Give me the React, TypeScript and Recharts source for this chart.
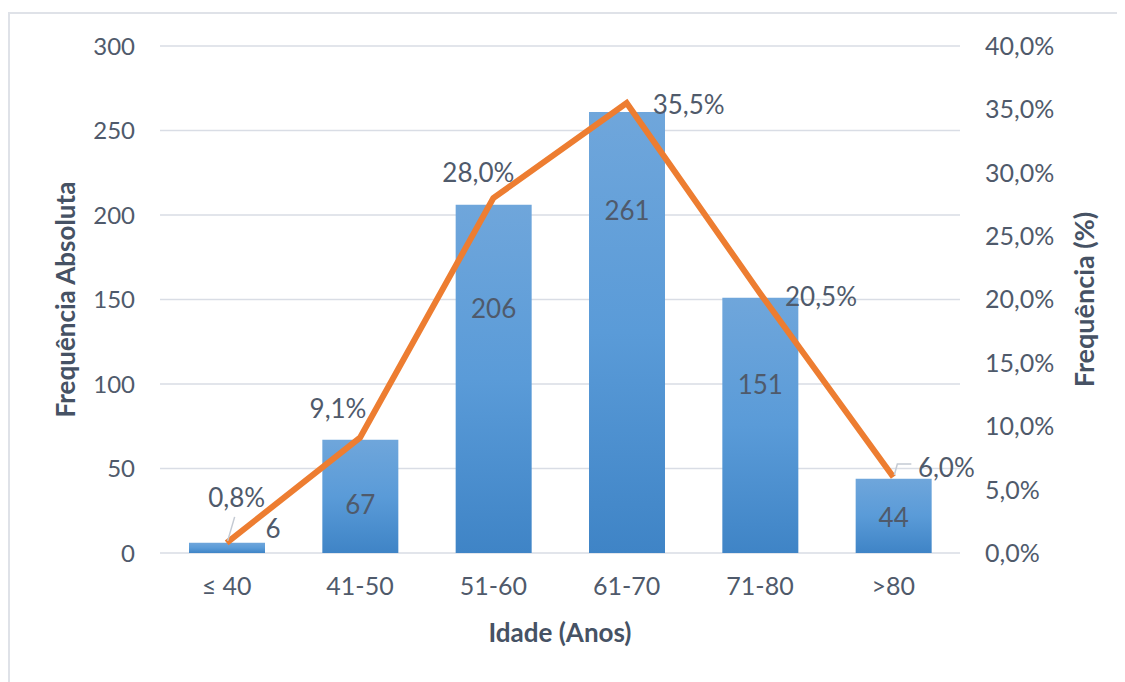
import React from "react";
import {
  ComposedChart,
  Bar,
  Line,
  XAxis,
  YAxis,
  CartesianGrid,
  LabelList,
} from "recharts";

// Age groups and their absolute / relative frequencies
const ageGroups = ["≤ 40", "41-50", "51-60", "61-70", "71-80", ">80"];
const counts = [6, 67, 206, 261, 151, 44];
const percents = [0.8, 9.1, 28.0, 35.5, 20.5, 6.0];

const countTicks = [0, 50, 100, 150, 200, 250, 300];
const percentTicks = [0, 5, 10, 15, 20, 25, 30, 35, 40];

// Hand-tuned placement of the data labels (pixels from the bar top / line point)
const countLabelShift = [
  { dx: 46, dy: -15 },
  { dx: 0, dy: 64 },
  { dx: 0, dy: 103 },
  { dx: 0, dy: 98 },
  { dx: 0, dy: 86 },
  { dx: 0, dy: 38 },
];
const percentLabelShift = [
  { dx: 10, dy: -46, leader: "up" },
  { dx: -22, dy: -30, leader: "" },
  { dx: -15, dy: -26, leader: "" },
  { dx: 62, dy: 1, leader: "" },
  { dx: 61, dy: 3, leader: "" },
  { dx: 53, dy: -10, leader: "elbow" },
];

const rows = ageGroups.map((g, i) => ({
  group: g,
  count: counts[i],
  pct: percents[i],
}));

const FONT = "Lato, 'Open Sans', sans-serif";
const TEXT = "#4f5a6b";
const TITLE = "#465264";
const GRID = "#d9dde5";

const fmtPct = (v: number) => v.toFixed(1).replace(".", ",") + "%";

const CountLabel = (props: any) => {
  const { x, y, width, value, index } = props;
  const s = countLabelShift[index] || { dx: 0, dy: 0 };
  return (
    <text
      x={x + width / 2 + s.dx}
      y={y + s.dy}
      textAnchor="middle"
      dominantBaseline="central"
      fill={TEXT}
      fontSize={26}
      fontFamily={FONT}
    >
      {value}
    </text>
  );
};

const PercentLabel = (props: any) => {
  const { x, y, value, index } = props;
  const s = percentLabelShift[index] || { dx: 0, dy: 0, leader: "" };
  const lx = x + s.dx;
  const ly = y + s.dy;
  let leader: React.ReactNode = null;
  if (s.leader === "up") {
    leader = (
      <line x1={x + 1} y1={y - 2} x2={x + 8} y2={y - 26} stroke="#c4cad3" strokeWidth={1.5} />
    );
  } else if (s.leader === "elbow") {
    leader = (
      <polyline
        points={`${x + 1},${y - 2} ${x + 4},${y - 13} ${x + 18},${y - 13}`}
        fill="none"
        stroke="#c4cad3"
        strokeWidth={1.5}
      />
    );
  }
  return (
    <g>
      {leader}
      <text
        x={lx}
        y={ly}
        textAnchor="middle"
        dominantBaseline="central"
        fill={TEXT}
        fontSize={26}
        fontFamily={FONT}
      >
        {fmtPct(Number(value))}
      </text>
    </g>
  );
};

const LeftTitle = (props: any) => {
  const vb = props.viewBox || {};
  const cx = vb.x - 15;
  const cy = vb.y + vb.height / 2;
  return (
    <text
      x={cx}
      y={cy}
      transform={`rotate(-90 ${cx} ${cy})`}
      textAnchor="middle"
      dominantBaseline="central"
      fill={TITLE}
      fontSize={26}
      fontWeight="bold"
      fontFamily={FONT}
    >
      Frequência Absoluta
    </text>
  );
};

const RightTitle = (props: any) => {
  const vb = props.viewBox || {};
  const cx = vb.x + 123;
  const cy = vb.y + vb.height / 2;
  return (
    <text
      x={cx}
      y={cy}
      transform={`rotate(-90 ${cx} ${cy})`}
      textAnchor="middle"
      dominantBaseline="central"
      fill={TITLE}
      fontSize={27}
      fontWeight="bold"
      fontFamily={FONT}
    >
      Frequência (%)
    </text>
  );
};

const BottomTitle = (props: any) => {
  const vb = props.viewBox || {};
  return (
    <text
      x={vb.x + vb.width / 2}
      y={vb.y + 79}
      textAnchor="middle"
      dominantBaseline="central"
      fill={TITLE}
      fontSize={26}
      fontWeight="bold"
      fontFamily={FONT}
    >
      Idade (Anos)
    </text>
  );
};

export default function App() {
  return (
    <div
      style={{
        marginTop: 4,
        width: 1117,
        height: 670,
        borderTop: "2px solid #dfe2e8",
        borderLeft: "2px solid #dfe2e8",
        background: "#fff",
      }}
    >
      <ComposedChart
        width={1115}
        height={668}
        data={rows}
        margin={{ top: 32, right: 85, bottom: 29, left: 70 }}
      >
        <defs>
          <linearGradient id="barFill" x1="0" y1="0" x2="0" y2="1">
            <stop offset="0%" stopColor="#6fa6db" />
            <stop offset="50%" stopColor="#5a9bd8" />
            <stop offset="100%" stopColor="#3f84c6" />
          </linearGradient>
        </defs>
        <CartesianGrid
          yAxisId="left"
          vertical={false}
          stroke={GRID}
          strokeWidth={1.5}
        />
        <XAxis
          dataKey="group"
          height={100}
          axisLine={false}
          tickLine={false}
          tickSize={0}
          tickMargin={24}
          tick={{ fill: TEXT, fontSize: 25, fontFamily: FONT }}
          label={<BottomTitle />}
        />
        <YAxis
          yAxisId="left"
          orientation="left"
          width={80}
          domain={[0, 300]}
          ticks={countTicks}
          axisLine={false}
          tickLine={false}
          tickSize={0}
          tickMargin={25}
          tick={{ fill: TEXT, fontSize: 24, fontFamily: FONT }}
          label={<LeftTitle />}
        />
        <YAxis
          yAxisId="right"
          orientation="right"
          width={80}
          domain={[0, 40]}
          ticks={percentTicks}
          tickFormatter={fmtPct}
          axisLine={false}
          tickLine={false}
          tickSize={0}
          tickMargin={25}
          tick={{ fill: TEXT, fontSize: 25, fontFamily: FONT }}
          label={<RightTitle />}
        />
        <Bar
          yAxisId="left"
          dataKey="count"
          barSize={76}
          fill="url(#barFill)"
          isAnimationActive={false}
        >
          <LabelList dataKey="count" content={<CountLabel />} />
        </Bar>
        <Line
          yAxisId="right"
          dataKey="pct"
          type="linear"
          stroke="#ed7d31"
          strokeWidth={6}
          dot={false}
          activeDot={false}
          isAnimationActive={false}
        >
          <LabelList dataKey="pct" content={<PercentLabel />} />
        </Line>
      </ComposedChart>
    </div>
  );
}
